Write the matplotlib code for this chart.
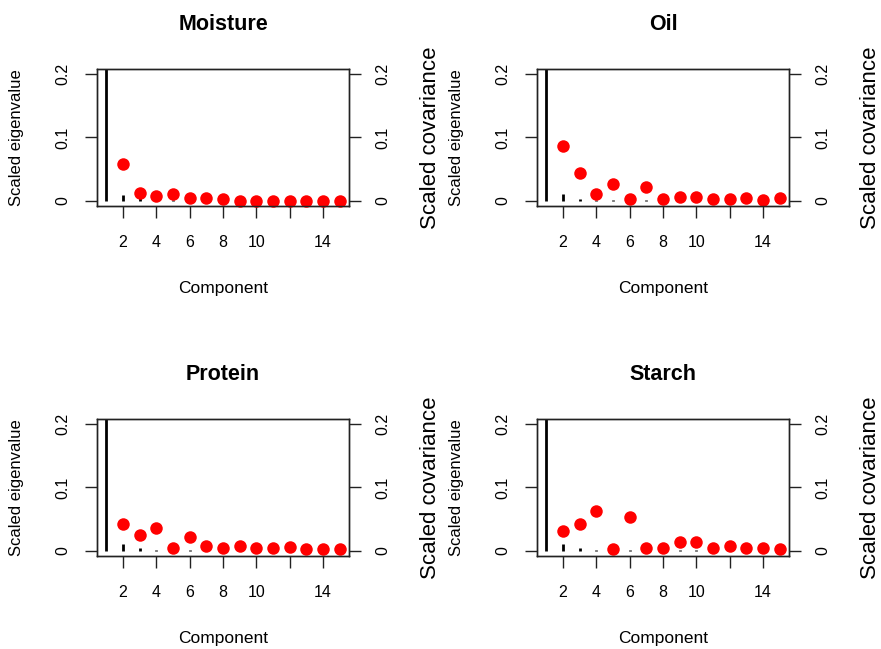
import matplotlib
matplotlib.use("Agg")
import matplotlib.pyplot as plt
from matplotlib.transforms import offset_copy
import numpy as np

plt.rcParams['font.family'] = ['Liberation Sans', 'DejaVu Sans']

components = list(range(1, 16))
titles = ["Moisture", "Oil", "Protein", "Starch"]

eig_moisture = [0.97, 0.0098, 0.004, 0.001, 0.0008, 0.0004, 0.0003, 0.0002, 0.0001, 0.0001, 0.0001, 0.0, 0.0, 0.0, 0.0]
eig_oil      = [0.97, 0.0103, 0.0036, 0.0015, 0.001, 0.0005, 0.001, 0.0003, 0.0002, 0.0001, 0.0001, 0.0, 0.0, 0.0, 0.0]
eig_protein  = [0.97, 0.0114, 0.0045, 0.0015, 0.0005, 0.001, 0.0003, 0.0002, 0.0001, 0.0001, 0.0001, 0.0, 0.0, 0.0, 0.0]
eig_starch   = [0.97, 0.0114, 0.004, 0.0015, 0.0005, 0.001, 0.0003, 0.0002, 0.001, 0.001, 0.0001, 0.0, 0.0, 0.0, 0.0]

cov_moisture = [np.nan, 0.059, 0.0124, 0.0083, 0.0104, 0.0052, 0.0052, 0.003, 0.0005, 0.0005, 0.0005, 0.0005, 0.0005, 0.0005, 0.0005]
cov_oil      = [np.nan, 0.086, 0.044, 0.011, 0.026, 0.0036, 0.0217, 0.0036, 0.0067, 0.0067, 0.0036, 0.0036, 0.0047, 0.0016, 0.0047]
cov_protein  = [np.nan, 0.042, 0.0248, 0.036, 0.0047, 0.0227, 0.0078, 0.0047, 0.0078, 0.0047, 0.0047, 0.0057, 0.0036, 0.0026, 0.0026]
cov_starch   = [np.nan, 0.031, 0.042, 0.0625, 0.0026, 0.0537, 0.0047, 0.0047, 0.014, 0.014, 0.0047, 0.0078, 0.0047, 0.0047, 0.0026]

eigs = [eig_moisture, eig_oil, eig_protein, eig_starch]
covs = [cov_moisture, cov_oil, cov_protein, cov_starch]

xticks = [2, 4, 6, 8, 10, 12, 14]
xticklabels = ["2", "4", "6", "8", "10", "", "14"]
yticks = [0, 0.1, 0.2]
yticklabels = ["0", "0.1", "0.2"]

W, H = 881, 649
fig = plt.figure(figsize=(W / 100, H / 100), dpi=100)

boxes = [(97, 69), (537, 69), (97, 419), (537, 419)]
bw, bh = 252, 137

tick_len = 8.6
tick_fs = 11.5
for i in range(4):
    x0, y0 = boxes[i]
    ax = fig.add_axes([x0 / W, 1 - (y0 + bh) / H, bw / W, bh / H])
    ax.vlines(components, 0, eigs[i], colors='black', linewidth=2.0)
    ax.set_xlim(0.44, 15.56)
    ax.set_ylim(-0.008, 0.208)
    ax.set_xticks(xticks)
    ax.set_xticklabels(xticklabels)
    ax.set_yticks(yticks)
    ax.set_yticklabels(yticklabels, rotation=90, va='center')
    ax.tick_params(axis='both', direction='out', length=tick_len, width=1.0,
                   labelsize=tick_fs, color='#222222')
    ax.tick_params(axis='x', pad=12.5)
    ax.tick_params(axis='y', pad=10.5)
    for s in ax.spines.values():
        s.set_linewidth(1.0)
        s.set_color('#222222')

    ax2 = ax.twinx()
    ax2.plot(components, covs[i], 'o', color='red', markersize=9,
             markeredgewidth=0, clip_on=False)
    ax2.set_ylim(-0.008, 0.208)
    ax2.set_yticks(yticks)
    ax2.set_yticklabels(yticklabels, rotation=90, va='center')
    ax2.tick_params(axis='y', direction='out', length=tick_len, width=1.0,
                    labelsize=tick_fs, pad=10.5, color='#222222')
    for s in ax2.spines.values():
        s.set_linewidth(1.0)
        s.set_color('#222222')

    # title
    t = offset_copy(ax.transAxes, fig=fig, x=0, y=45 * 0.72, units='points')
    ax.text(0.5, 1.0, titles[i], transform=t, ha='center', va='center',
            fontsize=15.5, fontweight='bold')
    # x label
    t = offset_copy(ax.transAxes, fig=fig, x=0, y=-83 * 0.72, units='points')
    ax.text(0.5, 0.0, "Component", transform=t, ha='center', va='center',
            fontsize=12.5)
    # left y label
    t = offset_copy(ax.transAxes, fig=fig, x=-80 * 0.72, y=0, units='points')
    ax.text(0.0, 0.5, "Scaled eigenvalue", transform=t, ha='center', va='center',
            rotation=90, fontsize=12)
    # right y label
    t = offset_copy(ax.transAxes, fig=fig, x=81 * 0.72, y=0, units='points')
    ax.text(1.0, 0.5, "Scaled covariance", transform=t, ha='center', va='center',
            rotation=90, fontsize=16)

fig.savefig("out.png", dpi=100)
